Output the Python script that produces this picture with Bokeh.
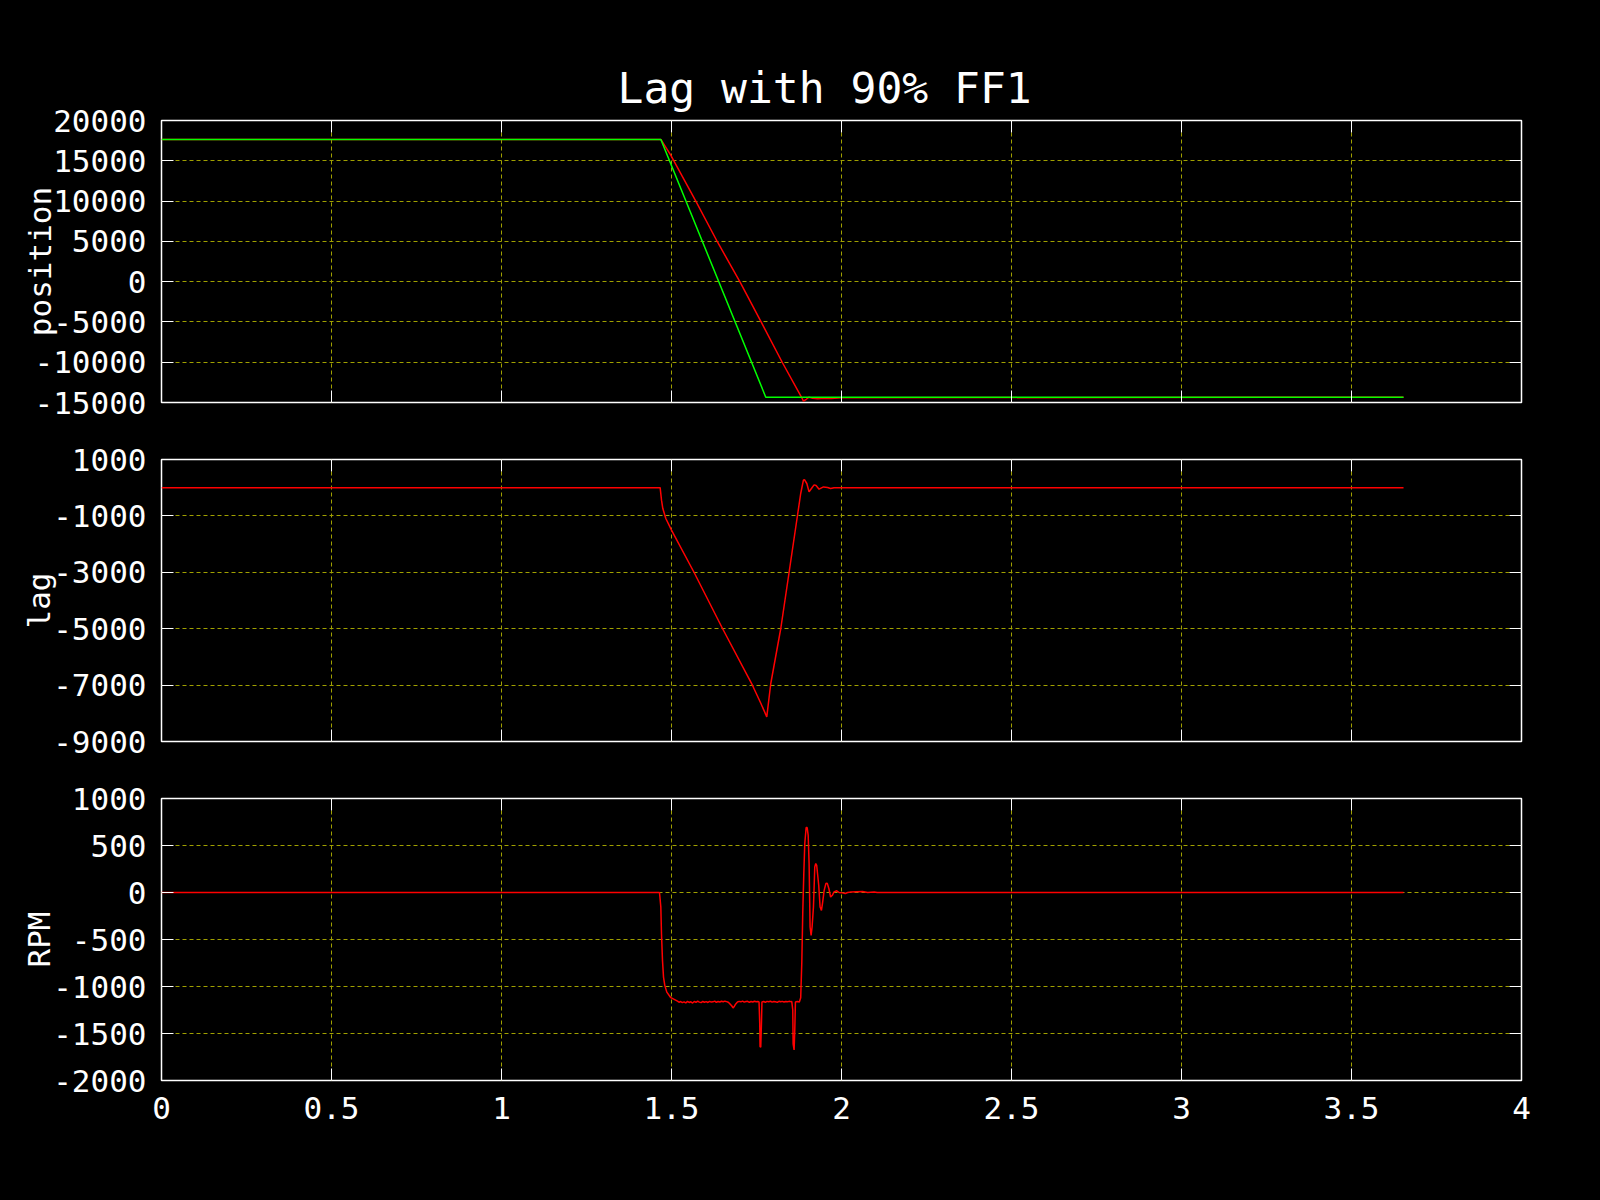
from bokeh.plotting import figure
from bokeh.layouts import column
from bokeh.models import Range1d, FixedTicker, LinearAxis, CustomJSTickFormatter
from bokeh.embed import file_html
from bokeh.resources import INLINE

# ---------------- data ----------------
title_text = "Lag with 90% FF1"
x_ticks = [0, 0.5, 1, 1.5, 2, 2.5, 3, 3.5, 4]

pos_ticks = [-15000, -10000, -5000, 0, 5000, 10000, 15000, 20000]
lag_ticks = [-9000, -7000, -5000, -3000, -1000, 1000]
rpm_ticks = [-2000, -1500, -1000, -500, 0, 500, 1000]

# commanded position (green)
t_cmd = [0.0, 1.4687, 1.7773, 3.653]
pos_cmd = [17650, 17650, -14340, -14340]

# actual position (red)
t_act = [0.0, 1.4687, 1.4977, 1.5715, 1.6352, 1.7018, 1.7647, 1.8264, 1.885,
         1.888, 1.8965, 1.9046, 1.915, 1.930, 1.950, 1.970, 2.000, 3.653]
pos_act = [17650, 17650, 15698, 9981, 4923, -49, -5095, -10066, -14540,
           -14838, -14600, -14341, -14480, -14520, -14470, -14500, -14420, -14340]

# lag
t_lag = [0.0, 1.4666, 1.4706, 1.4745, 1.4833, 1.500, 1.5665, 1.650, 1.738, 1.763,
         1.7802, 1.792, 1.8214, 1.8458, 1.8705, 1.880, 1.888, 1.891, 1.898, 1.9046,
         1.9116, 1.9194, 1.9252, 1.934, 1.947, 1.959, 1.968, 1.978, 3.653]
lag = [0, 0, -443, -738, -1092, -1507, -3007, -4993, -7004, -7652,
       -8128, -6943, -4993, -3007, -986, -206, 266, 290, 149, -149,
       -28, 100, 78, -53, 28, 7, -28, 0, 0]

# RPM
t_rpm = [0.0, 1.4647, 1.4686, 1.4706, 1.4735, 1.4765, 1.4803, 1.4862, 1.498, 1.5177,
         1.522, 1.527, 1.532, 1.537, 1.542, 1.547, 1.552, 1.557, 1.562, 1.567,
         1.572, 1.577, 1.582, 1.587, 1.592, 1.597, 1.602, 1.607, 1.612, 1.617,
         1.622, 1.627, 1.632, 1.637, 1.642, 1.647, 1.652, 1.657, 1.662, 1.667,
         1.672, 1.677, 1.681, 1.685, 1.689, 1.694, 1.699, 1.704, 1.709, 1.714,
         1.719, 1.724, 1.729, 1.734, 1.739, 1.744, 1.749, 1.754,
         1.7575, 1.7595, 1.7605, 1.7625, 1.7645, 1.766,
         1.771, 1.776, 1.781, 1.786, 1.791, 1.796, 1.801, 1.806, 1.811, 1.816,
         1.821, 1.826, 1.831, 1.836, 1.841, 1.846, 1.851,
         1.8538, 1.8567, 1.8577, 1.8606, 1.8626, 1.8645, 1.870, 1.876, 1.880,
         1.8832, 1.886, 1.889, 1.892, 1.896, 1.899, 1.902, 1.9047, 1.9076, 1.9106,
         1.9135, 1.9175, 1.9214, 1.9243, 1.927, 1.933, 1.937, 1.941, 1.944, 1.949,
         1.954, 1.958, 1.963, 1.968, 1.973, 1.978, 1.986, 1.993, 2.003, 2.011,
         2.018, 2.028, 2.062, 2.077, 2.096, 2.105, 3.653]
rpm = [0, 0, -154, -445, -722, -900, -988, -1060, -1119, -1155,
       -1168, -1160, -1172, -1163, -1175, -1158, -1170, -1162, -1176, -1160,
       -1168, -1155, -1166, -1171, -1159, -1167, -1161, -1170, -1158, -1166,
       -1163, -1155, -1168, -1160, -1165, -1157, -1163, -1156, -1161, -1168,
       -1185, -1205, -1228, -1210, -1185, -1165, -1158, -1163, -1155, -1166,
       -1160, -1158, -1168, -1160, -1165, -1157, -1162, -1160,
       -1165, -1390, -1640, -1645, -1400, -1165,
       -1160, -1168, -1158, -1163, -1157, -1166, -1160, -1162, -1169, -1157,
       -1163, -1158, -1165, -1160, -1163, -1158, -1161,
       -1160, -1250, -1610, -1675, -1460, -1165, -1160, -1165, -1120,
       -750, -225, 183, 521, 691, 691, 609, 308, -367, -456,
       -367, -154, 272, 308, 290, 77, -154, -190, -118, 23,
       95, 100, 40, -48, -30, 6, 18, 0, -4, -11,
       0, 6, 10, 0, 6, 0, 0]

# ---------------- styling ----------------
FONT = "DejaVu Sans Mono"
GRID = "#a0a000"
FMT = "return tick.toString();"


def hide_labels(ax):
    ax.major_label_text_font_size = "1px"
    ax.major_label_text_color = None
    ax.major_label_standoff = 0


def mirror_axis(ticks):
    ax = LinearAxis(ticker=FixedTicker(ticks=ticks),
                    major_tick_in=12, major_tick_out=0,
                    major_tick_line_color="white",
                    minor_tick_line_color=None,
                    axis_line_color=None)
    hide_labels(ax)
    return ax


def panel(ylabel, yr, yticks, label_standoff, show_x_labels, top_border, bottom_border):
    p = figure(frame_width=1360, frame_height=282,
               x_range=Range1d(0, 4), y_range=Range1d(*yr),
               output_backend="svg", toolbar_location=None,
               min_border_left=161, min_border_right=63,
               min_border_top=top_border, min_border_bottom=bottom_border,
               background_fill_color="black", border_fill_color="black",
               outline_line_color="white", outline_line_width=1.5)
    for ax, ticks in ((p.xaxis[0], x_ticks), (p.yaxis[0], yticks)):
        ax.ticker = FixedTicker(ticks=ticks)
        ax.formatter = CustomJSTickFormatter(code=FMT)
        ax.major_tick_in = 12
        ax.major_tick_out = 0
        ax.major_tick_line_color = "white"
        ax.minor_tick_line_color = None
        ax.axis_line_color = None
        ax.major_label_text_color = "white"
        ax.major_label_text_font = FONT
        ax.major_label_text_font_size = "31px"
        ax.major_label_standoff = 15
    if not show_x_labels:
        hide_labels(p.xaxis[0])
    p.yaxis.axis_label = ylabel
    p.yaxis.axis_label_text_color = "white"
    p.yaxis.axis_label_text_font = FONT
    p.yaxis.axis_label_text_font_size = "31px"
    p.yaxis.axis_label_text_font_style = "normal"
    p.yaxis.axis_label_standoff = label_standoff
    p.add_layout(mirror_axis(x_ticks), "above")
    p.add_layout(mirror_axis(yticks), "right")
    for g in (p.xgrid, p.ygrid):
        g.grid_line_color = GRID
        g.grid_line_dash = "4 3"
        g.grid_line_width = 1
    return p


p1 = panel("position", (-15000, 20000), pos_ticks, -26, False, 120, 28)
p1.title.text = title_text
p1.title.align = "left"
p1.title.offset = 456
p1.title.standoff = 16
p1.title.text_color = "white"
p1.title.text_font = FONT
p1.title.text_font_size = "43px"
p1.title.text_font_style = "normal"
p1.line(t_act, pos_act, line_color="#ff0000", line_width=1.5)
p1.line(t_cmd, pos_cmd, line_color="#00ff00", line_width=1.5)

p2 = panel("lag", (-9000, 1000), lag_ticks, -7, False, 29, 28)
p2.line(t_lag, lag, line_color="#ff0000", line_width=1.5)

p3 = panel("RPM", (-2000, 1000), rpm_ticks, -7, True, 29, 90)
p3.xaxis.major_label_standoff = 16
p3.line(t_rpm, rpm, line_color="#ff0000", line_width=1.5)

layout = column(p1, p2, p3, spacing=0)

html = file_html(layout, INLINE, title=title_text)
html = html.replace("<head>", "<head><style>html,body{background:#000;}</style>", 1)
open("out.html", "w").write(html)
